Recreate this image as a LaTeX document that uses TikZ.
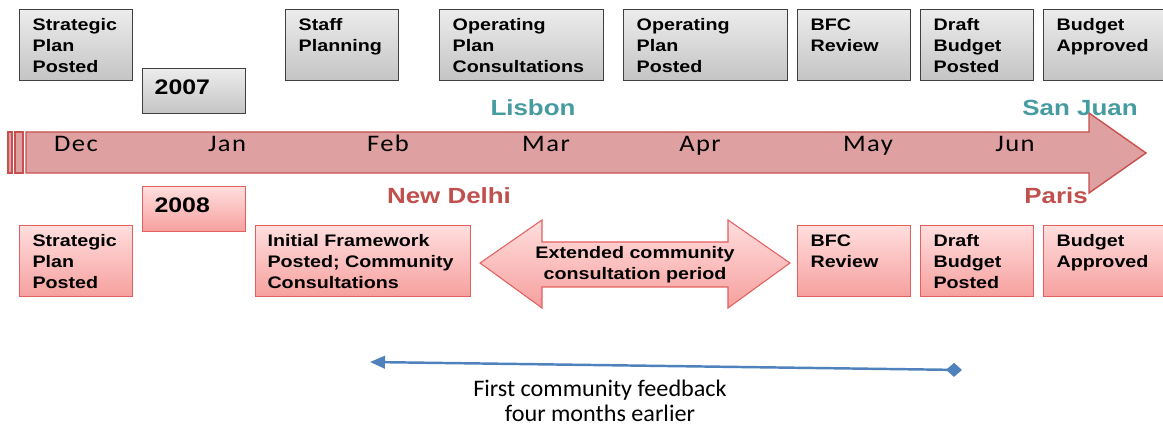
\documentclass[tikz,border=0pt]{standalone}
\usepackage{fontspec}
\setmainfont{Liberation Sans}[FakeStretch=1.18]
\newfontfamily\calfont{Carlito}[FakeStretch=1.02]
\newfontfamily\monthfont{Carlito}[FakeStretch=1.12,LetterSpace=6]
\usepackage{tikz}
\usetikzlibrary{arrows.meta,positioning}
\definecolor{boxgray}{RGB}{64,64,64}
\definecolor{graytop}{RGB}{236,236,236}
\definecolor{graybot}{RGB}{196,196,196}
\definecolor{pinktop}{RGB}{255,222,222}
\definecolor{pinkbot}{RGB}{246,160,158}
\definecolor{pinkline}{RGB}{226,96,94}
\definecolor{tlfill}{RGB}{222,160,160}
\definecolor{tlred}{RGB}{200,80,78}
\definecolor{cityteal}{RGB}{70,155,160}
\definecolor{cityred}{RGB}{192,80,77}
\definecolor{fbblue}{RGB}{79,129,189}
% text set at the top of a fixed box
\newcommand{\boxtext}[3]{\parbox[c][#2][t]{#1}{\vspace*{1.8mm}#3}}

\begin{document}
\begin{tikzpicture}[
    x=0.02cm, y=-0.02cm,
    gbox/.style={draw=boxgray, line width=0.8pt, top color=graytop, bottom color=graybot, inner sep=0pt, anchor=north west, minimum height=1.42cm, font=\fontsize{9.5}{12}\selectfont\bfseries},
    pbox/.style={gbox, draw=pinkline, line width=0.6pt, top color=pinktop, bottom color=pinkbot},
    yearbox/.style={minimum height=0.9cm, font=\fontsize{12}{14}\selectfont\bfseries},
    month/.style={anchor=base, font=\monthfont\fontsize{13.5}{15}\selectfont},
    city/.style={anchor=base, font=\fontsize{12.5}{15}\selectfont\bfseries}
]
    \clip (0,0) rectangle (1163,425);

    % 2007 row
    \node[gbox, minimum width=2.26cm] (spp07) at (19,9) {\boxtext{1.74cm}{1.42cm}{Strategic\\Plan\\Posted}};
    \node[gbox, yearbox, minimum width=2.06cm] (year07) at (142,68) {\boxtext{1.58cm}{0.9cm}{\vspace*{0.4mm}2007}};
    \node[gbox, minimum width=2.26cm] (staff07) at (285,9) {\boxtext{1.74cm}{1.42cm}{Staff\\Planning}};
    \node[gbox, minimum width=3.28cm] (opcons07) at (439,9) {\boxtext{2.76cm}{1.42cm}{Operating\\Plan\\Consultations}};
    \node[gbox, minimum width=3.28cm] (oppost07) at (623,9) {\boxtext{2.76cm}{1.42cm}{Operating\\Plan\\Posted}};
    \node[gbox, minimum width=2.26cm] (bfc07) at (797,9) {\boxtext{1.74cm}{1.42cm}{BFC\\Review}};
    \node[gbox, minimum width=2.26cm] (draft07) at (920,9) {\boxtext{1.74cm}{1.42cm}{Draft\\Budget\\Posted}};
    \node[gbox, minimum width=2.6cm] (approved07) at (1043,9) {\boxtext{2.08cm}{1.42cm}{Budget\\Approved}};

    % timeline
    \draw[tlred, fill=tlfill, line width=0.8pt] (8,132) rectangle (12,173);
    \draw[tlred, fill=tlfill, line width=0.8pt] (15,132) rectangle (23,173);
    \draw[tlred, fill=tlfill, line width=0.8pt] (26,132) -- (1089,132) -- (1089,113) -- (1146,153) -- (1089,193) -- (1089,173) -- (26,173) -- cycle;
    \foreach \m/\x in {Dec/76, Jan/227, Feb/388, Mar/546, Apr/700, May/868, Jun/1015}
        \node[month] (m\m) at (\x,152) {\m};

    \node[city, text=cityteal] (lisbon) at (533,116) {Lisbon};
    \node[city, text=cityteal] (sanjuan) at (1080,116) {San Juan};
    \node[city, text=cityred] (newdelhi) at (449,204) {New Delhi};
    \node[city, text=cityred] (paris) at (1056,204) {Paris};

    % 2008 row
    \node[pbox, yearbox, minimum width=2.06cm] (year08) at (142,186) {\boxtext{1.58cm}{0.9cm}{\vspace*{0.4mm}2008}};
    \node[pbox, minimum width=2.26cm] (spp08) at (19,225) {\boxtext{1.74cm}{1.42cm}{Strategic\\Plan\\Posted}};
    \node[pbox, minimum width=4.3cm] (initial08) at (255,225) {\boxtext{3.82cm}{1.42cm}{Initial Framework\\Posted; Community\\Consultations}};
    \node[pbox, minimum width=2.26cm] (bfc08) at (797,225) {\boxtext{1.74cm}{1.42cm}{BFC\\Review}};
    \node[pbox, minimum width=2.26cm] (draft08) at (920,225) {\boxtext{1.74cm}{1.42cm}{Draft\\Budget\\Posted}};
    \node[pbox, minimum width=2.6cm] (approved08) at (1043,225) {\boxtext{2.08cm}{1.42cm}{Budget\\Approved}};

    % extended consultation
    \draw[pinkline, line width=0.6pt, top color=pinktop, bottom color=pinkbot] (480,263) -- (542,220) -- (542,242) -- (728,242) -- (728,220) -- (790,263) -- (728,308) -- (728,287) -- (542,287) -- (542,308) -- cycle;
    \node[align=center, font=\fontsize{9.5}{12}\selectfont\bfseries] (extcons) at (635,265) {Extended community\\consultation period};

    % feedback
    \coordinate (fbstart) at (370,362);
    \coordinate (fbend) at (962,370);
    \draw[fbblue, line width=1.4pt, {Triangle[length=0.3cm, width=0.25cm]}-{Diamond[length=0.32cm, width=0.28cm]}] (fbstart) -- (fbend);
    \node[align=center, inner sep=1pt, font=\calfont\fontsize{13.5}{14.2}\selectfont] (feedback) at (600,401) {First community feedback\\four months earlier};
\end{tikzpicture}
\end{document}
